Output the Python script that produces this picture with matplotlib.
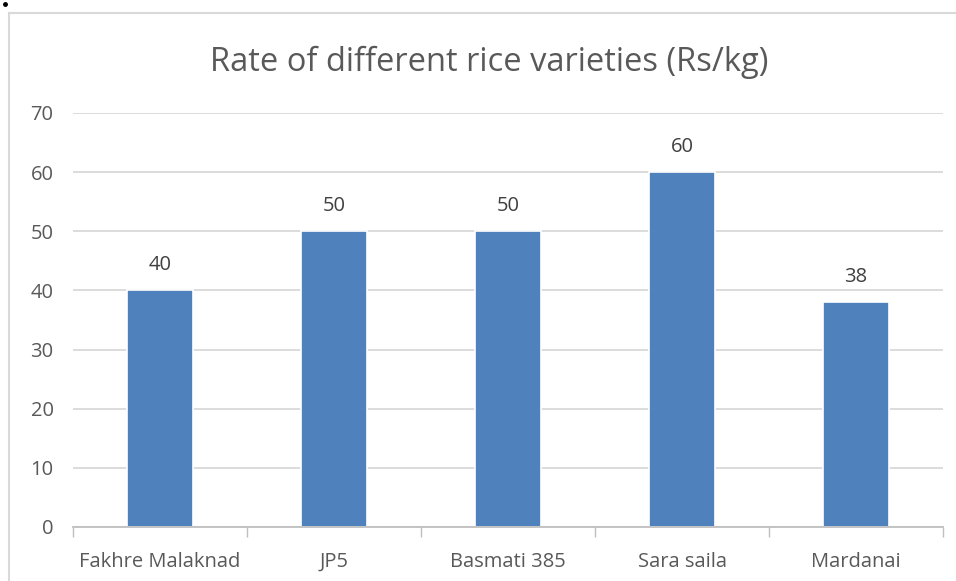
import numpy as np
import matplotlib.pyplot as plt
from matplotlib.lines import Line2D

varieties = ['Fakhre Malaknad', 'JP5', 'Basmati 385', 'Sara saila', 'Mardanai']
rates = [40, 50, 50, 60, 38]
yticks = [0, 10, 20, 30, 40, 50, 60, 70]

plt.rcParams['font.family'] = ['Open Sans', 'DejaVu Sans']
txt = '#595959'
grid = '#d9d9d9'

W, H = 956, 581
fig = plt.figure(figsize=(W / 100, H / 100), dpi=100)
ax = fig.add_axes([73 / W, 1 - 527 / H, (943 - 73) / W, (527 - 113) / H])

x = np.arange(len(varieties))
bars = ax.bar(x, rates, width=0.38, color='#4f81bd', edgecolor='white', linewidth=1.2, zorder=3)
ax.bar_label(bars, padding=11, fontsize=14.5, color='#404040')

ax.set_xlim(-0.5, len(varieties) - 0.5)
ax.set_ylim(0, 70)
ax.set_yticks(yticks)
ax.set_xticks(x)
ax.set_xticklabels(varieties)
ax.set_xticks(np.arange(len(varieties) + 1) - 0.5, minor=True)
ax.tick_params(axis='x', which='major', length=0, pad=18, labelsize=14.5, labelcolor=txt)
ax.tick_params(axis='x', which='minor', length=7, color='#bfbfbf', width=1)
ax.tick_params(axis='y', length=0, pad=14, labelsize=14.5, labelcolor=txt)
ax.grid(axis='y', color=grid, linewidth=1.3, zorder=0)
for s in ['top', 'right', 'left']:
    ax.spines[s].set_visible(False)
ax.spines['bottom'].set_color('#bfbfbf')
ax.spines['bottom'].set_linewidth(1.3)
ax.spines['bottom'].set_zorder(4)

fig.text(489 / W, 1 - 62 / H, 'Rate of different rice varieties (Rs/kg)',
         ha='center', va='center', fontsize=23.5, color=txt)

# outer chart frame
fig.add_artist(Line2D([9 / W, 1], [1 - 13 / H, 1 - 13 / H], color=grid, linewidth=1.5))
fig.add_artist(Line2D([9 / W, 9 / W], [0, 1 - 13 / H], color=grid, linewidth=1.5))
# stray dot in the top-left corner
fig.add_artist(Line2D([5 / W], [1 - 4 / H], marker='o', markersize=2.5, color='black', linestyle='none'))

fig.savefig('out.png', dpi=100)
